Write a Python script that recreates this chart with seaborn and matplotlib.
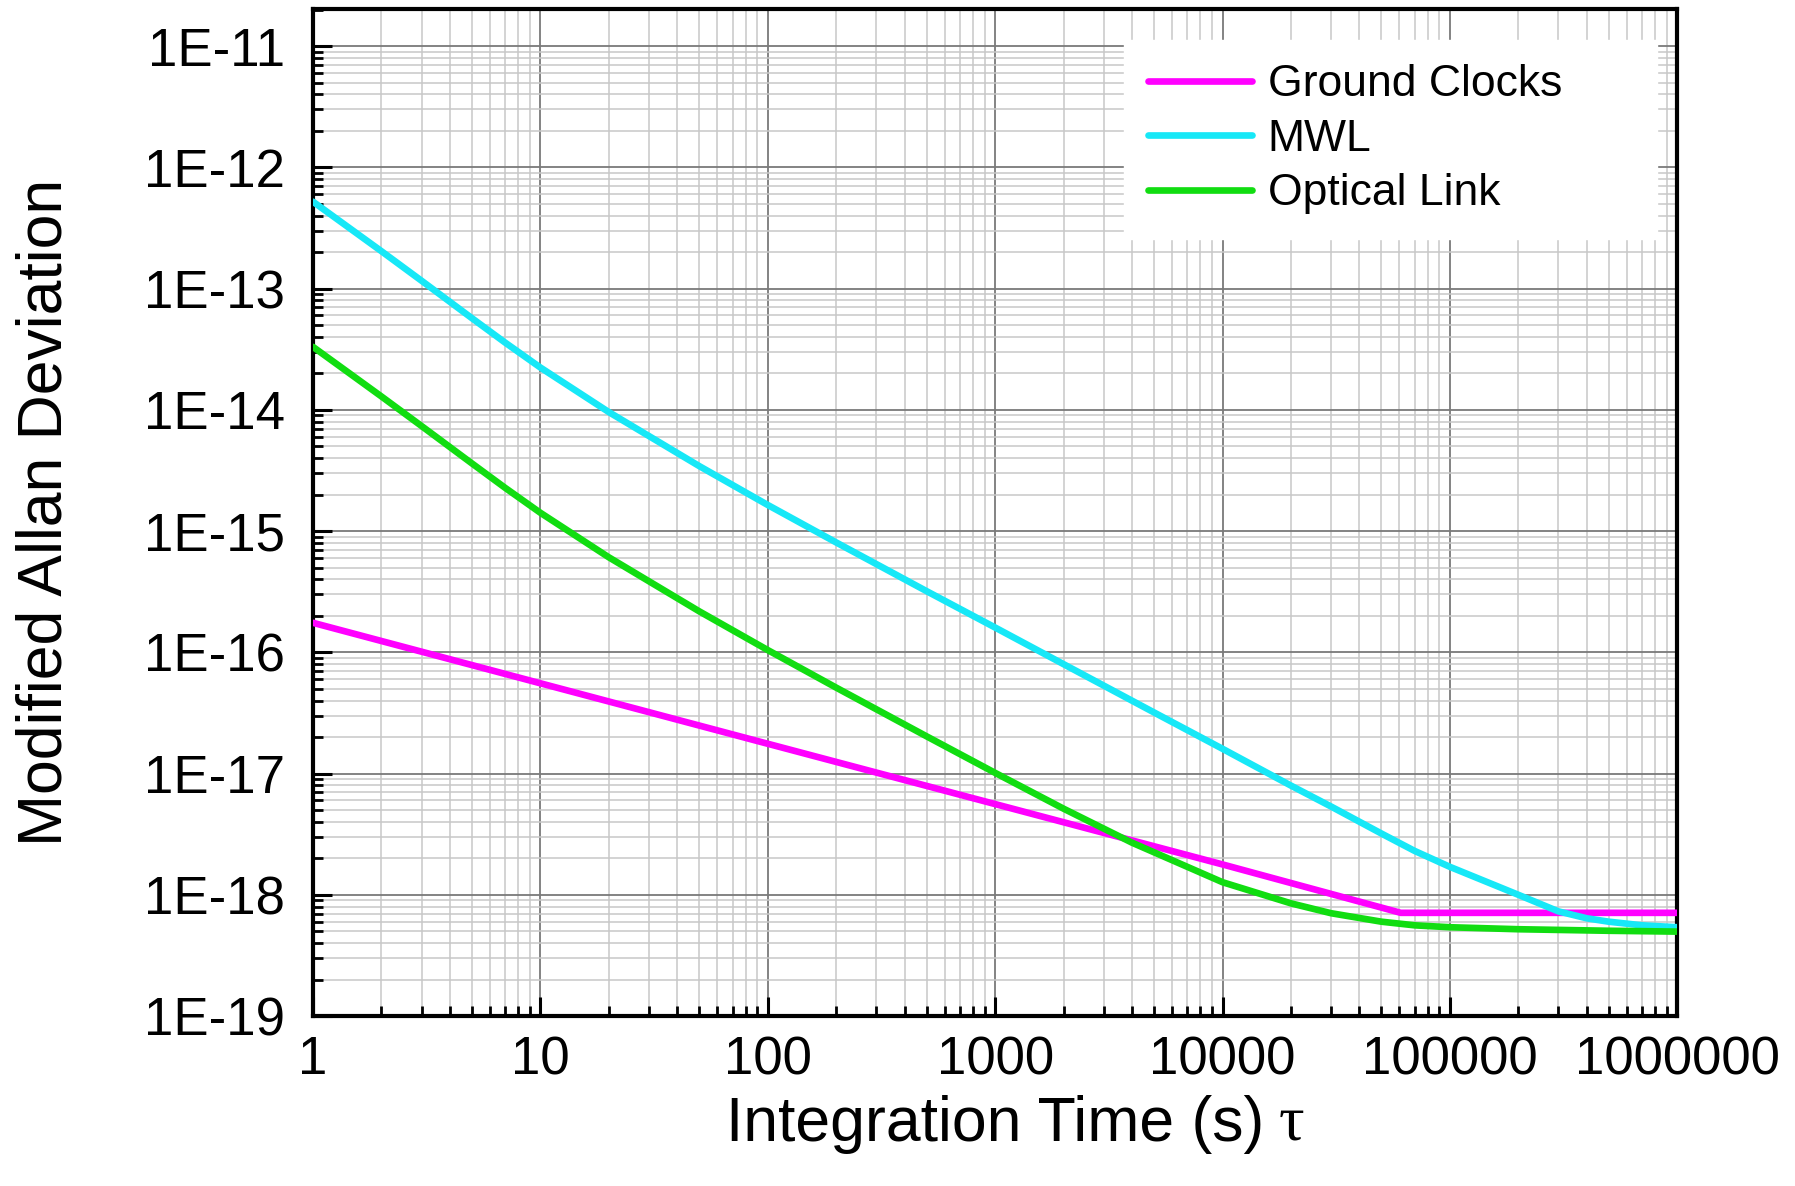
import numpy as np
import pandas as pd
import matplotlib
matplotlib.use("Agg")
import matplotlib.pyplot as plt
import seaborn as sns
from matplotlib.ticker import LogLocator, NullFormatter

# ---------------- data ----------------
series_names = ["Ground Clocks", "MWL", "Optical Link"]
series_colors = ["#ff00ff", "#17e8f7", "#11dd11"]

gc_tau = [1, 10, 100, 1000, 10000, 60800, 1000000]
gc_adev = [1.75e-16, 5.55e-17, 1.76e-17, 5.6e-18, 1.78e-18, 7.1e-19, 7.1e-19]

mwl_tau = [1, 2, 3, 5, 7, 10, 20, 50, 100, 200, 500, 1000, 2000, 5000,
           10000, 20000, 30000, 50000, 70000, 100000, 200000, 300000, 400000,
           500000, 700000, 1000000]
mwl_adev = [5.2e-13, 2.03e-13, 1.16e-13, 5.69e-14, 3.58e-14, 2.23e-14,
            9.57e-15, 3.43e-15, 1.64e-15, 8.05e-16, 3.19e-16, 1.6e-16,
            7.98e-17, 3.19e-17, 1.6e-17, 7.95e-18, 5.35e-18, 3.2e-18,
            2.3e-18, 1.7e-18, 1.0e-18, 7.3e-19, 6.4e-19, 6.0e-19, 5.6e-19,
            5.4e-19]

ol_tau = [1, 2, 3, 5, 7, 10, 20, 50, 100, 200, 500, 1000, 2000, 4000,
          10000, 20000, 30000, 50000, 70000, 100000, 200000, 500000, 1000000]
ol_adev = [3.3e-14, 1.287e-14, 7.35e-15, 3.61e-15, 2.27e-15, 1.414e-15,
           6.07e-16, 2.175e-16, 1.043e-16, 5.11e-17, 2.025e-17, 1.013e-17,
           5.13e-18, 2.69e-18, 1.27e-18, 8.5e-19, 7.05e-19, 6.0e-19, 5.6e-19,
           5.4e-19, 5.2e-19, 5.05e-19, 4.97e-19]

x_tick_vals = [1, 10, 100, 1000, 10000, 100000, 1000000]
x_tick_labels = ["1", "10", "100", "1000", "10000", "100000", "1000000"]
y_tick_vals = [1e-19, 1e-18, 1e-17, 1e-16, 1e-15, 1e-14, 1e-13, 1e-12, 1e-11]
y_tick_labels = ["1E-19", "1E-18", "1E-17", "1E-16", "1E-15", "1E-14",
                 "1E-13", "1E-12", "1E-11"]

x_label = "Integration Time (s)"
x_label_sym = "\u03c4"
y_label = "Modified Allan Deviation"

# ---------------- style ----------------
sns.set_style("white")
plt.rcParams["font.family"] = ["Liberation Sans", "DejaVu Sans"]
plt.rcParams["text.color"] = "black"
plt.rcParams["axes.labelcolor"] = "black"
plt.rcParams["xtick.color"] = "black"
plt.rcParams["ytick.color"] = "black"

fig = plt.figure(figsize=(17.95, 11.86), dpi=100)
ax = fig.add_axes([0.1744, 0.1433, 0.7600, 0.8491])

taus = [gc_tau, mwl_tau, ol_tau]
adevs = [gc_adev, mwl_adev, ol_adev]
for name, col, t, v in zip(series_names, series_colors, taus, adevs):
    sns.lineplot(x=t, y=v, color=col, lw=4.8, label=name, ax=ax, zorder=3)

ax.set_xscale("log")
ax.set_yscale("log")
ax.set_xlim(1, 1e6)
ax.set_ylim(1e-19, 2.02e-11)

ax.set_xticks(x_tick_vals)
ax.set_xticklabels(x_tick_labels)
ax.set_yticks(y_tick_vals)
ax.set_yticklabels(y_tick_labels)
ax.xaxis.set_minor_locator(LogLocator(base=10, subs=np.arange(2, 10), numticks=100))
ax.yaxis.set_minor_locator(LogLocator(base=10, subs=np.arange(2, 10), numticks=100))
ax.xaxis.set_minor_formatter(NullFormatter())
ax.yaxis.set_minor_formatter(NullFormatter())

ax.grid(True, which="major", color="#7a7a7a", lw=1.3, zorder=0)
ax.grid(True, which="minor", color="#c8c8c8", lw=1.1, zorder=0)
ax.set_axisbelow(True)

ax.tick_params(which="both", direction="in", top=False, right=False,
               left=True, bottom=True, colors="black")
ax.tick_params(which="major", length=14, width=2.2, labelsize=38)
ax.tick_params(which="minor", length=7, width=2.0)
ax.tick_params(axis="y", which="major", pad=20)
ax.tick_params(axis="x", which="major", pad=14)

for s in ax.spines.values():
    s.set_visible(True)
    s.set_color("black")
    s.set_linewidth(3.0)

ax.set_ylabel(y_label, fontsize=45)
ax.yaxis.set_label_coords(-0.175, 0.5)
ax.set_xlabel(x_label, fontsize=45)
ax.xaxis.set_label_coords(0.5, -0.078)
ax.annotate(x_label_sym, xy=(1, 0), xycoords=ax.xaxis.label,
            xytext=(10, 0), textcoords="offset points",
            ha="left", va="bottom", fontsize=46,
            family=["Liberation Serif", "DejaVu Serif"])

leg = ax.legend(loc="upper left",
                bbox_to_anchor=(1124 / 1795, 1 - 240 / 1186,
                                533 / 1795, 200 / 1186),
                bbox_transform=fig.transFigure, mode="expand",
                fontsize=32, frameon=True,
                fancybox=False, framealpha=1, facecolor="white",
                edgecolor="white", borderpad=0.55, labelspacing=0.3,
                handlelength=2.34, handletextpad=0.34, borderaxespad=0)
for line in leg.get_lines():
    line.set_linewidth(4.8)
leg.set_zorder(5)

fig.savefig("out.png", dpi=100)
